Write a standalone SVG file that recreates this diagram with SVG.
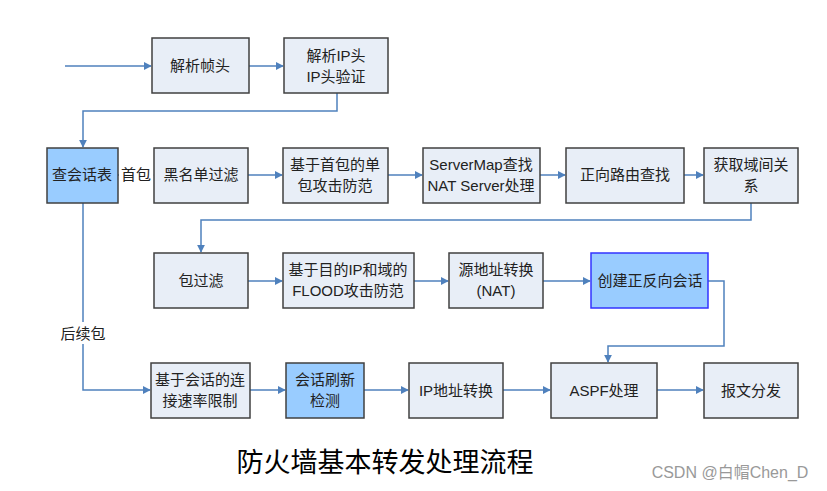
<svg xmlns="http://www.w3.org/2000/svg" width="827" height="491" viewBox="0 0 827 491">
<style>
.b rect{fill:#E8EEF7;stroke:#404040;stroke-width:1.5}
.h rect{fill:#99CCFF}
.hb rect{fill:#99CCFF;stroke:#3333FF}
text{font-family:"Liberation Sans","Noto Sans CJK SC",sans-serif;font-size:15px;fill:#222;text-anchor:middle}
.c path{fill:none;stroke:#4F81BD;stroke-width:1.5}
</style>
<defs><marker id="a" viewBox="0 0 10 10" refX="9" refY="5" markerWidth="8" markerHeight="8" orient="auto" markerUnits="userSpaceOnUse"><path d="M0,0L10,5L0,10z" fill="#4F81BD"/></marker></defs>
<rect width="827" height="491" fill="#fff"/>
<g class="c" marker-end="url(#a)">
<path d="M65,66H151" marker-end="url(#a)"/>
<path d="M249,66H283" marker-end="url(#a)"/>
<path d="M337,93V111H83V147" marker-end="url(#a)"/>
<path d="M118,175H153" marker-end="url(#a)"/>
<path d="M248,175H282" marker-end="url(#a)"/>
<path d="M388,175H422" marker-end="url(#a)"/>
<path d="M540,175H565" marker-end="url(#a)"/>
<path d="M684,175H703" marker-end="url(#a)"/>
<path d="M751,203V220H201V252" marker-end="url(#a)"/>
<path d="M248,281H282" marker-end="url(#a)"/>
<path d="M414,281H448" marker-end="url(#a)"/>
<path d="M543,281H590" marker-end="url(#a)"/>
<path d="M708,281H724V346H608V362" marker-end="url(#a)"/>
<path d="M83,203V390H150" marker-end="url(#a)"/>
<path d="M250,390H285" marker-end="url(#a)"/>
<path d="M364,390H408" marker-end="url(#a)"/>
<path d="M503,390H550" marker-end="url(#a)"/>
<path d="M657,390H703" marker-end="url(#a)"/>
</g>
<rect x="119" y="163" width="34" height="22" fill="#fff"/>
<text x="136" y="180">首包</text>
<rect x="58" y="322" width="50" height="22" fill="#fff"/>
<text x="83" y="339">后续包</text>
<g id="n1" class="b"><rect x="152" y="38" width="97" height="55"/><text x="200" y="71">解析帧头</text></g>
<g id="n2" class="b"><rect x="284" y="38" width="104" height="55"/><text x="336" y="61">解析IP头</text><text x="336" y="82">IP头验证</text></g>
<g id="n3" class="b h"><rect x="47" y="148" width="71" height="55"/><text x="82" y="180">查会话表</text></g>
<g id="n4" class="b"><rect x="154" y="148" width="94" height="55"/><text x="201" y="180">黑名单过滤</text></g>
<g id="n5" class="b"><rect x="283" y="148" width="105" height="55"/><text x="335" y="170">基于首包的单</text><text x="335" y="191">包攻击防范</text></g>
<g id="n6" class="b"><rect x="423" y="148" width="117" height="55"/><text x="481" y="170">ServerMap查找</text><text x="481" y="191">NAT Server处理</text></g>
<g id="n7" class="b"><rect x="566" y="148" width="118" height="55"/><text x="625" y="180">正向路由查找</text></g>
<g id="n8" class="b"><rect x="704" y="148" width="94" height="55"/><text x="751" y="170">获取域间关</text><text x="751" y="191">系</text></g>
<g id="n9" class="b"><rect x="154" y="253" width="94" height="55"/><text x="201" y="286">包过滤</text></g>
<g id="n10" class="b"><rect x="283" y="253" width="131" height="55"/><text x="348" y="275">基于目的IP和域的</text><text x="348" y="296">FLOOD攻击防范</text></g>
<g id="n11" class="b"><rect x="449" y="253" width="94" height="55"/><text x="496" y="275">源地址转换</text><text x="496" y="296">(NAT)</text></g>
<g id="n12" class="b hb"><rect x="591" y="253" width="117" height="55"/><text x="650" y="286">创建正反向会话</text></g>
<g id="n13" class="b"><rect x="151" y="363" width="99" height="55"/><text x="200" y="385">基于会话的连</text><text x="200" y="406">接速率限制</text></g>
<g id="n14" class="b h"><rect x="286" y="363" width="78" height="55"/><text x="325" y="385">会话刷新</text><text x="325" y="406">检测</text></g>
<g id="n15" class="b"><rect x="409" y="363" width="94" height="55"/><text x="456" y="396">IP地址转换</text></g>
<g id="n16" class="b"><rect x="551" y="363" width="106" height="55"/><text x="604" y="396">ASPF处理</text></g>
<g id="n17" class="b"><rect x="704" y="363" width="94" height="55"/><text x="751" y="396">报文分发</text></g>
<text x="385" y="472" style="font-size:27px;fill:#000">防火墙基本转发处理流程</text>
<text x="730" y="478" style="font-size:16px;fill:#999">CSDN @白帽Chen_D</text>
</svg>
